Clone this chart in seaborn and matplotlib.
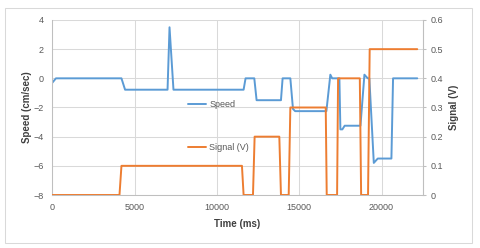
import pandas as pd
import seaborn as sns
import matplotlib.pyplot as plt
from matplotlib.patches import Rectangle

# speed trace (time in ms, speed in cm/sec)
speed_time = [0, 220, 4200, 4420, 7000, 7120, 7360, 11620, 11740, 12270, 12410,
              13890, 13990, 14460, 14620, 14750, 16650, 16890, 17000, 17440, 17500,
              17620, 17760, 18720, 18960, 19160, 19260, 19530, 19770, 20600, 20700, 22170]
speed_vals = [-0.3, 0, 0, -0.78, -0.78, 3.5, -0.78, -0.78, 0, 0, -1.5,
              -1.5, 0, 0, -2.1, -2.25, -2.25, 0.25, 0, 0, -3.5,
              -3.5, -3.25, -3.25, 0.25, 0, 0, -5.8, -5.5, -5.5, 0, 0]

# signal trace (time in ms, volts)
signal_time = [0, 4080, 4200, 11520, 11620, 12190, 12290, 13790, 13890, 14360, 14460,
               16610, 16670, 17300, 17360, 18680, 18760, 19180, 19280, 22170]
signal_vals = [0, 0, 0.1, 0.1, 0, 0, 0.2, 0.2, 0, 0, 0.3,
               0.3, 0, 0, 0.4, 0.4, 0, 0, 0.5, 0.5]

x_ticks = [0, 5000, 10000, 15000, 20000]
speed_ticks = [-8, -6, -4, -2, 0, 2, 4]
signal_ticks = [0, 0.1, 0.2, 0.3, 0.4, 0.5, 0.6]

BLUE = "#5B9BD5"
ORANGE = "#ED7D31"
GRID = "#d9d9d9"
AXIS = "#bfbfbf"
TXT = "#595959"


def main():
    sns.set_style("white")
    plt.rcParams["font.family"] = ["Liberation Sans", "DejaVu Sans"]

    speed = pd.DataFrame({"t": speed_time, "v": speed_vals})
    signal = pd.DataFrame({"t": signal_time, "v": signal_vals})

    fig = plt.figure(figsize=(4.8, 2.48), dpi=100)
    ax = fig.add_axes([0.109, 0.2137, 0.7716, 0.7057])
    ax2 = ax.twinx()

    sns.lineplot(data=speed, x="t", y="v", ax=ax, color=BLUE, lw=1.4,
                 sort=False, estimator=None, label="Speed")
    sns.lineplot(data=signal, x="t", y="v", ax=ax2, color=ORANGE, lw=1.4,
                 sort=False, estimator=None, label="Signal (V)")

    ax.set_xlim(0, 22500)
    ax.set_ylim(-8, 4)
    ax2.set_ylim(0, 0.6)
    ax.set_xticks(x_ticks)
    ax.set_yticks(speed_ticks)
    ax2.set_yticks(signal_ticks)
    ax2.set_yticklabels(["0", "0.1", "0.2", "0.3", "0.4", "0.5", "0.6"])

    ax.grid(True, color=GRID, lw=0.75)
    ax.set_axisbelow(True)

    for a in (ax, ax2):
        a.spines["top"].set_visible(False)
        for s in ("left", "right", "bottom"):
            a.spines[s].set_color(AXIS)
            a.spines[s].set_linewidth(0.75)
    ax2.spines["left"].set_visible(False)
    ax2.spines["bottom"].set_visible(False)

    ax.tick_params(axis="both", length=0, labelsize=6.5, labelcolor=TXT, pad=6)
    ax2.tick_params(axis="y", length=2, width=0.75, color=AXIS, labelsize=6.5,
                    labelcolor=TXT, pad=4)

    ax.set_xlabel("Time (ms)", fontsize=7, fontweight="bold", color="#404040", labelpad=5)
    ax.set_ylabel("Speed (cm/sec)", fontsize=7, fontweight="bold", color="#404040", labelpad=1)
    ax2.set_ylabel("Signal (V)", fontsize=7, fontweight="bold", color="#404040", labelpad=4)

    leg1 = ax.legend(loc="center left", bbox_to_anchor=(0.365, 0.518), frameon=False,
                     fontsize=6.5, handlelength=2.1, handletextpad=0.3,
                     borderpad=0, borderaxespad=0)
    leg2 = ax2.legend(loc="center left", bbox_to_anchor=(0.365, 0.27), frameon=False,
                      fontsize=6.5, handlelength=2.1, handletextpad=0.3,
                      borderpad=0, borderaxespad=0)
    for leg in (leg1, leg2):
        for t in leg.get_texts():
            t.set_color(TXT)

    fig.patches.append(Rectangle((4.7 / 480, 1 - 243 / 248), (472 - 4.7) / 480,
                                 (243 - 8.3) / 248, transform=fig.transFigure,
                                 fill=False, edgecolor=GRID, lw=0.75))

    fig.savefig("out.png", dpi=100)


if __name__ == "__main__":
    main()
